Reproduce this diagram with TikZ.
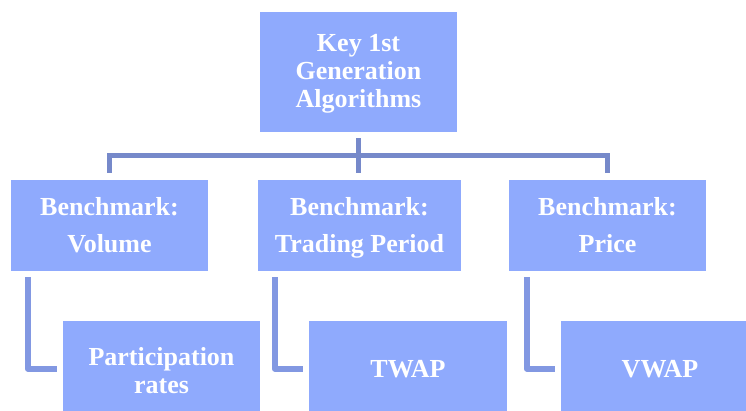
\documentclass[tikz,border=0pt]{standalone}
\usepackage{fontspec}
\setmainfont{Liberation Serif}
\definecolor{boxfill}{RGB}{143,170,253}
\definecolor{conntop}{RGB}{118,137,202}
\definecolor{connlow}{RGB}{130,152,226}
\tikzset{
  boxnode/.style={rectangle, fill=boxfill, draw=none, inner sep=0pt, align=center, text=white,
    font=\bfseries\fontsize{26}{28}\selectfont},
  benchnode/.style={boxnode, font=\bfseries\fontsize{26}{37}\selectfont},
  conn/.style={draw=conntop, line width=5.5pt},
  connlo/.style={draw=connlow, line width=5.5pt, line join=round}
}
\begin{document}
\begin{tikzpicture}[x=1pt,y=-1pt]
\useasboundingbox (0,0) rectangle (746,411);
\node[boxnode, minimum width=197pt, minimum height=120pt] (top) at (358.5,72) {\rule{0pt}{21pt}Key 1st\\Generation\\Algorithms};
\node[benchnode, minimum width=197pt, minimum height=91pt] (b1) at (109.5,225.5) {\rule{0pt}{22pt}Benchmark:\\Volume\vphantom{g}};
\node[benchnode, minimum width=203pt, minimum height=91pt] (b2) at (359.5,225.5) {\rule{0pt}{22pt}Benchmark:\\Trading Period};
\node[benchnode, minimum width=197pt, minimum height=91pt] (b3) at (607.5,225.5) {\rule{0pt}{22pt}Benchmark:\\Price\vphantom{g}};
\node[boxnode, minimum width=197pt, minimum height=100pt] (p1) at (161.5,371) {Participation\\rates};
\node[boxnode, minimum width=198pt, minimum height=96pt] (p2) at (408,369) {TWAP};
\node[boxnode, minimum width=198pt, minimum height=96pt] (p3) at (660,369) {VWAP};
\coordinate (bar) at (358.5,155.5);
\draw[conn] ([yshift=7pt]b1.north) |- (bar) -| ([yshift=7pt]b3.north);
\draw[conn] ([yshift=-6pt]top.south) -- ([yshift=7pt]top.south |- b2.north);
\draw[connlo] ([xshift=17pt,yshift=-6pt]b1.south west) |- ([xshift=-6pt]p2.west -| p1.west);
\draw[connlo] ([xshift=17pt,yshift=-6pt]b2.south west) |- ([xshift=-6pt]p2.west);
\draw[connlo] ([xshift=18pt,yshift=-6pt]b3.south west) |- ([xshift=-6pt]p3.west);
\end{tikzpicture}
\end{document}
